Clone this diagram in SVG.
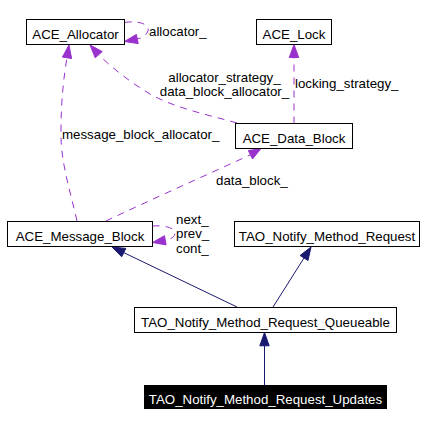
<svg xmlns="http://www.w3.org/2000/svg" width="427" height="427" viewBox="0 0 427 427">
<style>
text{font-family:"Liberation Sans",Arial,Helvetica,sans-serif;font-size:13.3px;fill:#000}
.n rect{fill:#fff;stroke:#000;stroke-width:1}
.n text{text-anchor:middle}
.u{fill:none;stroke:#9a32cd;stroke-width:1;stroke-dasharray:7,6}
.ua{fill:#9a32cd;stroke:#9a32cd}
.i{fill:none;stroke:#191970;stroke-width:1}
.ia{fill:#191970;stroke:#191970}
</style>
<rect width="427" height="427" fill="#fff"/>
<g id="edges">
<path class="i" d="M264.5,385 L264.5,345.8"/>
<polygon class="ia" points="264.5,332.5 259.8,345.8 269.2,345.8"/>
<path class="i" d="M237,307 L123.7,252.6"/>
<polygon class="ia" points="112,247 121.7,256.8 125.8,248.4"/>
<path class="i" d="M273,307 L304,258"/>
<polygon class="ia" points="311,247 308,260.5 300.1,255.5"/>
<path class="u" d="M77,221 C70,190 60,160 61,130 C61,100 64,75 67,57.8"/>
<polygon class="ua" points="69,45 71.6,58.5 62.4,57.1"/>
<text x="62" y="139">message_block_allocator_</text>
<path class="u" d="M237,123 C205,114 175,108 150,94 C130,82 112,68 98.7,54.7"/>
<polygon class="ua" points="90,45 95.2,57.8 102.2,51.6"/>
<text x="224.5" y="82" text-anchor="middle">allocator_strategy_</text>
<text x="224.5" y="96" text-anchor="middle">data_block_allocator_</text>
<path class="u" d="M294,123.5 L294,57.5"/>
<polygon class="ua" points="294,44.5 289.3,57.5 298.7,57.5"/>
<text x="295" y="88">locking_strategy_</text>
<path class="u" d="M106,221 C150,200 200,178 250.4,154.8"/>
<polygon class="ua" points="261,148.5 252.5,159 248.3,150.6"/>
<text x="216" y="185">data_block_</text>
<path class="u" d="M124.5,22.5 C140,20 150,25 148,31 C146,36 142,38 137.3,39"/>
<polygon class="ua" points="124.5,41.5 138.2,43.6 136.4,34.4"/>
<text x="149" y="36">allocator_</text>
<path class="u" d="M152.5,226 C165,225 175,228 175,233 C175,237 171,239 165.3,240.3"/>
<polygon class="ua" points="152.5,242.5 166.1,244.9 164.5,235.7"/>
<text x="176" y="224">next_</text>
<text x="176" y="238">prev_</text>
<text x="176" y="253">cont_</text>
</g>
<g id="ACE_Allocator" class="n"><rect x="26.5" y="19.5" width="98" height="25"/><text x="75.5" y="38.5">ACE_Allocator</text></g>
<g id="ACE_Lock" class="n"><rect x="256.5" y="19.5" width="75" height="25"/><text x="294" y="38.5">ACE_Lock</text></g>
<g id="ACE_Data_Block" class="n"><rect x="235.5" y="123.5" width="117" height="25"/><text x="294" y="142.5">ACE_Data_Block</text></g>
<g id="ACE_Message_Block" class="n"><rect x="7.5" y="221.5" width="145" height="25"/><text x="80" y="240.5">ACE_Message_Block</text></g>
<g id="TAO_Notify_Method_Request" class="n"><rect x="234.5" y="221.5" width="185" height="25"/><text x="327" y="240.5">TAO_Notify_Method_Request</text></g>
<g id="TAO_Notify_Method_Request_Queueable" class="n"><rect x="134.5" y="307.5" width="262" height="25"/><text x="265.5" y="326.5">TAO_Notify_Method_Request_Queueable</text></g>
<g id="TAO_Notify_Method_Request_Updates"><rect x="144" y="385" width="243" height="24" fill="#000"/><text x="265.5" y="403.5" text-anchor="middle" style="fill:#fff">TAO_Notify_Method_Request_Updates</text></g>
</svg>
